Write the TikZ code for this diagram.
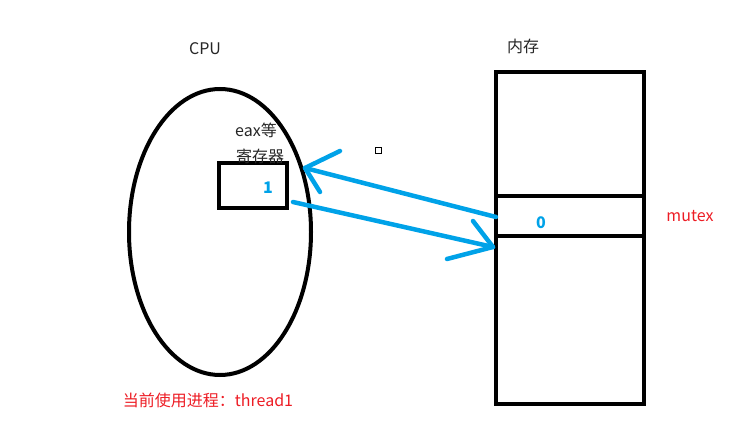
\documentclass[tikz,border=0pt]{standalone}
\usepackage{fontspec}
\setmainfont{Noto Sans CJK SC}
\usetikzlibrary{calc, shapes.geometric}
\definecolor{arrowblue}{RGB}{0,162,232}
\definecolor{notered}{RGB}{237,28,36}
\tikzset{
  label text/.style={font=\fontsize{16}{18}\selectfont, text=black!85, inner sep=0pt},
  value text/.style={font=\fontsize{16}{18}\selectfont\bfseries, text=arrowblue, inner sep=0pt},
  red text/.style={font=\fontsize{16}{18}\selectfont, text=notered, inner sep=0pt},
  cpu shape/.style={draw, ellipse, line width=4pt, minimum width=182pt, minimum height=286pt, inner sep=0pt},
  box line/.style={draw, line width=4pt, inner sep=0pt},
  mem line/.style={line width=4.5pt},
  flow line/.style={arrowblue, line width=4.5pt, line cap=round, line join=round},
}

\begin{document}
\begin{tikzpicture}[x=1pt, y=-1pt]
  \useasboundingbox (0,0) rectangle (756,430);
  % CPU side
  \node[cpu shape] (cpu) at (220,232) {};
  \node[label text] (cpulbl) at (205,49) {CPU};
  \node[box line, minimum width=68pt, minimum height=45pt] (reg) at (253,185.5) {};
  \node[label text] (eax) at (256,130) {eax等};
  \node[label text] (regname) at (260,156) {寄存器};
  \node[value text] (one) at (268,188) {1};
  \node[red text] (proc) at (208,400) {当前使用进程：thread1};
  % memory side
  \node[box line, line width=4.5pt, minimum width=148pt, minimum height=332pt] (mem) at (570,238) {};
  \node[label text] (memlbl) at (523,46) {内存};
  \coordinate (rowA) at (496,196);
  \coordinate (rowB) at (496,236);
  \draw[mem line] (rowA) -- (rowA -| mem.east);
  \draw[mem line] (rowB) -- (rowB -| mem.east);
  \node[value text] (zero) at (541,223) {0};
  \node[red text] (mutex) at (690,216) {mutex};
  \node[draw, line width=0.8pt, minimum size=6pt, inner sep=0pt] (dot) at (378,150) {};
  % load and store
  \coordinate (loadtail) at (496,217);
  \coordinate (loadtip) at (305,168);
  \draw[flow line] (loadtail) -- (loadtip);
  \draw[flow line] (340,151) -- (loadtip) -- (320,192);
  \coordinate (storetail) at (293,202);
  \coordinate (storetip) at (493,247);
  \draw[flow line] (storetail) -- (storetip);
  \draw[flow line] (473,221) -- (storetip) -- (447,259);
\end{tikzpicture}
\end{document}
